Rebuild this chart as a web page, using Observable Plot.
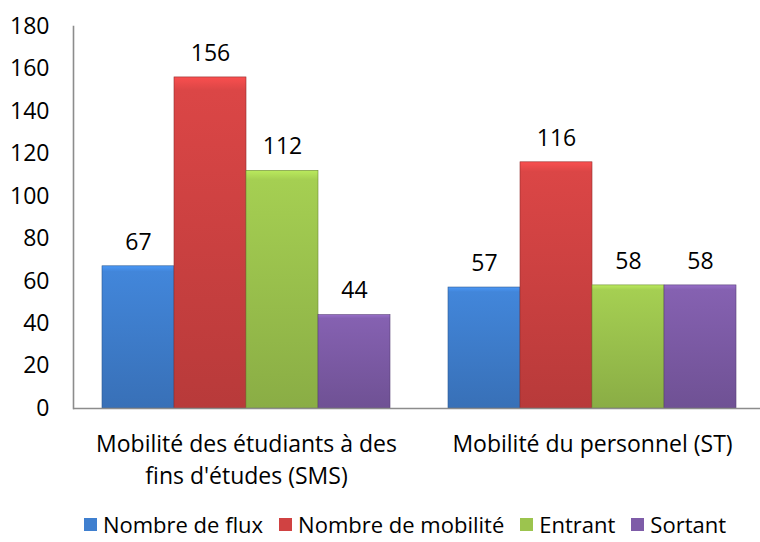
<!DOCTYPE html>
<html><head><meta charset="utf-8">
<script src="https://cdn.jsdelivr.net/npm/d3@7"></script>
<script src="https://cdn.jsdelivr.net/npm/@observablehq/plot@0.6"></script>
<style>
body{margin:0;background:#fff;overflow:hidden;font-family:"Open Sans",sans-serif}
#chart svg{display:block;overflow:visible}
#legend{display:flex;justify-content:center;padding-left:66px;margin-top:15px;height:22px}
div.lg-swatches{min-height:0 !important;margin:0 !important;line-height:22px !important;height:22px}
div.lg-swatches .lg-swatch{margin-right:16px !important;line-height:22px}
div.lg-swatches .lg-swatch > svg{margin-right:6px !important}
</style></head><body><div id="chart"></div><div id="legend"></div><script>
const groups = ["Mobilité des étudiants à des fins d'études (SMS)", "Mobilité du personnel (ST)"];
const groupLabels = ["Mobilité des étudiants à des\nfins d'études (SMS)", "Mobilité du personnel (ST)"];
const series = ["Nombre de flux", "Nombre de mobilité", "Entrant", "Sortant"];
const valuesSMS = [67, 156, 112, 44];
const valuesST = [57, 116, 58, 58];
const colors = ["#3f7fcf", "#d04242", "#9cc44e", "#7e5ca8"];
const yTicks = [0, 20, 40, 60, 80, 100, 120, 140, 160, 180];

const rows = [];
series.forEach((s, i) => {
  rows.push({group: groups[0], series: s, value: valuesSMS[i], idx: i});
  rows.push({group: groups[1], series: s, value: valuesST[i], idx: i});
});

const font = "'Open Sans', sans-serif";
const fs = 23;
const barMarks = series.map((s, i) => Plot.barY(rows.filter(d => d.series === s), {
  x: "series", y: "value", fx: "group",
  fill: `url(#grad${i})`, stroke: d3.color(colors[i]).darker(1).formatHex(), strokeWidth: 0.6
}));

const chart = Plot.plot({
  width: 760,
  height: 498,
  marginLeft: 73,
  marginRight: -5,
  marginTop: 26,
  marginBottom: 90,
  style: {fontFamily: font, fontSize: fs + "px", color: "#000", background: "#fff"},
  fx: {domain: groups, padding: 0},
  x: {domain: series, paddingInner: 0, paddingOuter: 0.378, axis: null},
  y: {domain: [0, 180]},
  marks: [
    ...barMarks,
    Plot.ruleY([0], {stroke: "#8c8c8c", strokeWidth: 1.6}),
    Plot.frame({anchor: "left", facetAnchor: "left", stroke: "#8c8c8c", strokeWidth: 1.6}),
    Plot.text(rows, {x: "series", y: "value", fx: "group", text: d => String(d.value), dy: -24, fontSize: fs, fill: "#000"}),
    Plot.axisY({ticks: yTicks, tickSize: 0, tickPadding: 24, fontSize: fs, label: null, fill: "#000"}),
    Plot.axisFx({anchor: "bottom", tickSize: 0, tickPadding: 21, fontSize: fs, lineHeight: 1.39, label: null, fill: "#000",
      tickFormat: g => groupLabels[groups.indexOf(g)]})
  ]
});

const defs = d3.select(chart).insert("defs", ":first-child");
colors.forEach((c, i) => {
  const g = defs.append("linearGradient").attr("id", `grad${i}`).attr("x1", 0).attr("y1", 0).attr("x2", 0).attr("y2", 1);
  g.append("stop").attr("offset", "0%").attr("stop-color", d3.color(c).brighter(0.5).formatHex());
  g.append("stop").attr("offset", "4%").attr("stop-color", d3.color(c).brighter(0.15).formatHex());
  g.append("stop").attr("offset", "100%").attr("stop-color", d3.color(c).darker(0.35).formatHex());
});
document.getElementById("chart").appendChild(chart);

const legend = Plot.legend({
  color: {type: "ordinal", domain: series, range: colors},
  swatchSize: 13,
  className: "lg",
  style: {fontFamily: font, fontSize: "22px", color: "#000"}
});
document.getElementById("legend").appendChild(legend);
</script></body></html>
